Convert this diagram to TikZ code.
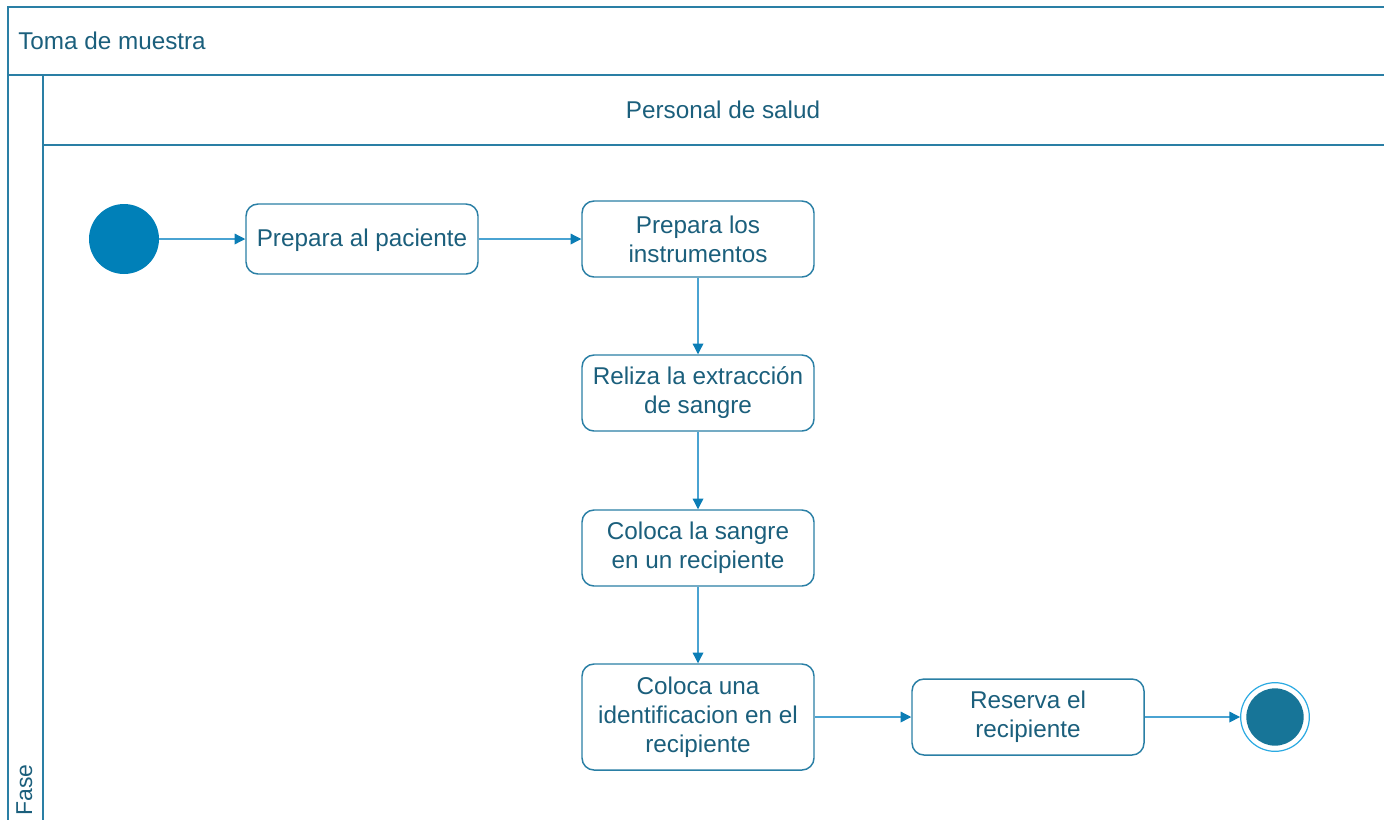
\documentclass[tikz,border=0pt]{standalone}
\usepackage{fontspec}
\setmainfont{Liberation Sans}
\usetikzlibrary{arrows.meta}
\definecolor{frameblue}{HTML}{2A7FA5}
\definecolor{textteal}{HTML}{1B5F7C}
\definecolor{flowblue}{HTML}{4AA3D2}
\definecolor{headblue}{HTML}{0B7DB5}
\definecolor{startblue}{HTML}{0080B8}
\definecolor{endring}{HTML}{2BAAE2}
\definecolor{endfill}{HTML}{177598}
\tikzset{
  lane/.style={draw=frameblue, line width=1.1pt},
  lbl/.style={text=textteal, font=\fontsize{18.2}{21.75}\selectfont, inner sep=0pt},
  act/.style={draw=frameblue, line width=1.1pt, rounded corners=9pt, fill=white,
    minimum width=174pt, align=center, text=textteal,
    font=\fontsize{18.2}{21.75}\selectfont, inner sep=0pt},
  flow/.style={draw=flowblue, line width=0.9pt,
    -{Triangle[length=8pt,width=8pt,color=headblue]}},
}
\begin{document}
\begin{tikzpicture}[x=0.75pt, y=-0.75pt]
\useasboundingbox (0,0) rectangle (1384,819);
% swimlane frame
\draw[lane] (1386,7) -- (8,7) -- (8,821);
\draw[lane] (8,75) -- (1386,75);
\draw[lane] (43,75) -- (43,821);
\draw[lane] (43,145) -- (1386,145);
\node[lbl, anchor=base west] (title) at (18,49) {Toma de muestra};
\node[lbl] (role) at (723,110) {Personal de salud};
\node[lbl, font=\fontsize{17.2}{20}\selectfont, rotate=90, anchor=base west] (phase) at (32,816) {Fase};
% activities
\node[fill=startblue, circle, minimum size=52.5pt, inner sep=0pt] (start) at (124,239) {};
\node[act, minimum height=52.5pt, text depth=1.5pt] (a1) at (362,239) {Prepara al paciente};
\node[act, minimum height=57pt] (a2) at (698,239) {Prepara los\\instrumentos};
\node[act, minimum height=57pt] (a3) at (698,393) {Reliza la extracción\\de sangre};
\node[act, minimum height=57pt] (a4) at (698,548) {Coloca la sangre\\en un recipiente};
\node[act, minimum height=79.5pt] (a5) at (698,717) {Coloca una\\identificacion en el\\recipiente};
\node[act, minimum height=57pt] (a6) at (1028,717) {Reserva el\\recipiente};
\node[draw=endring, line width=0.9pt, circle, minimum size=51.5pt, inner sep=0pt, fill=white] (end) at (1275,717) {};
\node[fill=endfill, circle, minimum size=43pt, inner sep=0pt] (endcore) at (end.center) {};
% control flow
\draw[flow] (start) -- (a1);
\draw[flow] (a1) -- (a2);
\draw[flow] (a2) -- (a3);
\draw[flow] (a3) -- (a4);
\draw[flow] (a4) -- (a5);
\draw[flow] (a5) -- (a6);
\draw[flow] (a6) -- (end);
\end{tikzpicture}
\end{document}
